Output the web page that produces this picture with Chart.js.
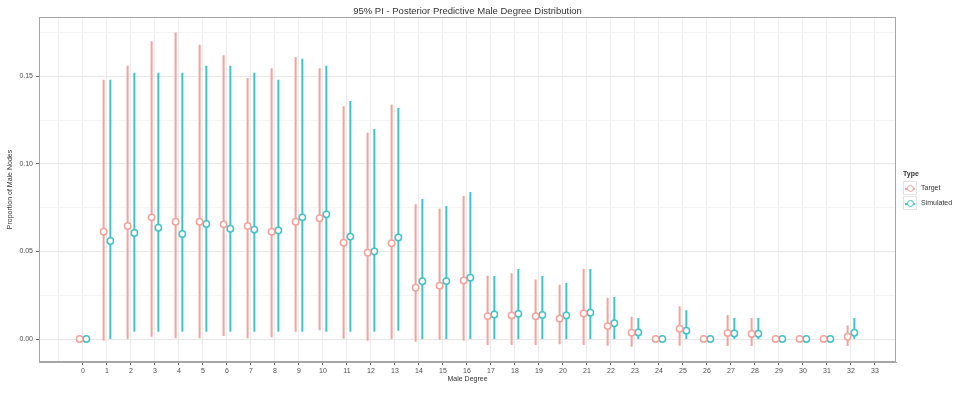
<!DOCTYPE html>
<html>
<head>
<meta charset="utf-8">
<script src="https://cdn.jsdelivr.net/npm/chart.js@4"></script>
<style>
  html, body { margin: 0; padding: 0; background: #fff; }
  #wrap { position: relative; width: 960px; height: 393px; }
  #title { position: absolute; left: 39px; width: 857px; top: 5px; text-align: center; font-family: "Liberation Sans", Arial, sans-serif; font-size: 9.5px; color: #333; }
  #legend { position: absolute; left: 903px; top: 170px; font-family: "Liberation Sans", Arial, sans-serif; font-size: 7px; color: #333; }
  #legend .ttl { font-weight: bold; margin-bottom: 3px; }
  #legend .row { display: flex; align-items: center; height: 15px; }
  #legend .key { position: relative; width: 14px; height: 14px; border: 1px solid #e2e2e2; box-sizing: border-box; margin-right: 4px; background: #fff; }
  #legend .key .ln { position: absolute; left: 1px; right: 1px; top: 6px; height: 0; border-top: 2px solid; }
  #legend .key .dot { position: absolute; left: 3px; top: 3px; width: 5px; height: 5px; border-radius: 50%; border: 1.5px solid; background: #fff; }
</style>
</head>
<body>
<div id="wrap">
  <canvas id="chart" width="960" height="393"></canvas>
  <div id="title">95% PI - Posterior Predictive Male Degree Distribution</div>
  <div id="legend"></div>
</div>
<script>
// Data
const degrees = [0, 1, 2, 3, 4, 5, 6, 7, 8, 9, 10, 11, 12, 13, 14, 15, 16, 17, 18, 19, 20, 21, 22, 23, 24, 25, 26, 27, 28, 29, 30, 31, 32];
const tickLabels = ["0", "1", "2", "3", "4", "5", "6", "7", "8", "9", "10", "11", "12", "13", "14", "15", "16", "17", "18", "19", "20", "21", "22", "23", "24", "25", "26", "27", "28", "29", "30", "31", "32", "33"];

const targetMean = [0, 0.0613, 0.0646, 0.0695, 0.067, 0.067, 0.0655, 0.0646, 0.0613, 0.067, 0.069, 0.055, 0.0493, 0.0547, 0.0293, 0.0305, 0.0335, 0.0131, 0.0135, 0.013, 0.0116, 0.0146, 0.0074, 0.0036, 0, 0.0059, 0, 0.0034, 0.0029, 0, 0, 0, 0.0013];
const targetLow = [0, -0.001, 0, 0.0013, 0.0004, 0.0004, 0.0017, 0.0004, 0.001, 0.0042, 0.005, 0.0002, -0.001, 0, -0.0015, -0.0004, -0.001, -0.0034, -0.0034, -0.0034, -0.003, -0.0034, -0.0038, -0.0044, 0, -0.0038, 0, -0.004, -0.004, 0, 0, 0, -0.004];
const targetHigh = [0, 0.148, 0.156, 0.170, 0.175, 0.168, 0.162, 0.149, 0.1546, 0.161, 0.1546, 0.133, 0.118, 0.134, 0.077, 0.0746, 0.0817, 0.0362, 0.0376, 0.034, 0.031, 0.040, 0.0236, 0.0127, 0, 0.0188, 0, 0.0137, 0.012, 0, 0, 0, 0.0078];

const simMean = [0, 0.056, 0.0606, 0.0636, 0.060, 0.0657, 0.063, 0.0625, 0.062, 0.0695, 0.0712, 0.0585, 0.050, 0.058, 0.033, 0.0331, 0.035, 0.014, 0.0144, 0.0137, 0.0135, 0.015, 0.009, 0.0038, 0, 0.0048, 0, 0.0032, 0.003, 0, 0, 0, 0.0036];
const simLow = [0, 0, 0.0042, 0.0042, 0.0042, 0.0042, 0.0042, 0.0042, 0.0042, 0.0042, 0.0042, 0.0042, 0.0042, 0.0048, 0, 0, 0, 0, 0, 0, 0, 0, 0, 0, 0, 0, 0, 0, 0, 0, 0, 0, 0];
const simHigh = [0, 0.148, 0.152, 0.152, 0.152, 0.156, 0.156, 0.152, 0.148, 0.160, 0.156, 0.136, 0.120, 0.132, 0.080, 0.076, 0.084, 0.036, 0.040, 0.036, 0.032, 0.040, 0.024, 0.012, 0, 0.0165, 0, 0.012, 0.012, 0, 0, 0, 0.012];

const targetColor = "#f3a19b";
const simColor = "#3ec3c6";
const dodge = 0.14;
const FONT = "'Liberation Sans', Arial, sans-serif";

// vertical interval segments, broken by null points
function intervals(lo, hi, offset) {
  const pts = [];
  degrees.forEach((d, i) => {
    pts.push({ x: d + offset, y: lo[i] });
    pts.push({ x: d + offset, y: hi[i] });
    pts.push({ x: d + offset, y: null });
  });
  return pts;
}

function means(m, offset) {
  return degrees.map((d, i) => ({ x: d + offset, y: m[i] }));
}

function isMajor(v) {
  const r = v / 0.05;
  return Math.abs(r - Math.round(r)) < 1e-6;
}

// panel frame (top/right edges)
const framePlugin = {
  id: "frame",
  afterDraw(chart) {
    const a = chart.chartArea;
    const ctx = chart.ctx;
    ctx.save();
    ctx.strokeStyle = "#a6a6a6";
    ctx.lineWidth = 1;
    ctx.strokeRect(a.left + 0.5, a.top + 0.5, a.right - a.left - 1, a.bottom - a.top - 1);
    ctx.restore();
  }
};

const chart = new Chart(document.getElementById("chart").getContext("2d"), {
  type: "scatter",
  data: {
    datasets: [
      {
        label: "Target",
        data: means(targetMean, -dodge),
        pointRadius: 3.2,
        pointBorderWidth: 1.5,
        pointBackgroundColor: "#fff",
        pointBorderColor: targetColor,
        order: 0
      },
      {
        label: "Simulated",
        data: means(simMean, dodge),
        pointRadius: 3.2,
        pointBorderWidth: 1.5,
        pointBackgroundColor: "#fff",
        pointBorderColor: simColor,
        order: 0
      },
      {
        label: "Target interval",
        data: intervals(targetLow, targetHigh, -dodge),
        showLine: true,
        spanGaps: false,
        borderColor: targetColor,
        borderWidth: 2,
        pointRadius: 0,
        order: 1
      },
      {
        label: "Simulated interval",
        data: intervals(simLow, simHigh, dodge),
        showLine: true,
        spanGaps: false,
        borderColor: simColor,
        borderWidth: 2,
        pointRadius: 0,
        order: 1
      }
    ]
  },
  options: {
    responsive: false,
    animation: false,
    layout: { padding: { left: 0, right: 64, top: 17, bottom: 0 } },
    plugins: {
      legend: { display: false },
      tooltip: { enabled: false },
      title: { display: false }
    },
    scales: {
      x: {
        type: "linear",
        min: -1.833,
        max: 33.875,
        afterFit: s => { s.height = 31; },
        ticks: {
          stepSize: 1,
          includeBounds: false,
          autoSkip: false,
          maxRotation: 0,
          padding: 2,
          color: "#4d4d4d",
          font: { family: FONT, size: 7 },
          callback: v => (v >= 0 && v < tickLabels.length) ? tickLabels[v] : ""
        },
        grid: {
          color: "#ececec",
          tickLength: 3,
          tickColor: c => (c.tick && c.tick.value >= 0) ? "#666" : "rgba(0,0,0,0)"
        },
        border: { color: "#a6a6a6" },
        title: {
          display: true,
          text: "Male Degree",
          color: "#333",
          font: { family: FONT, size: 7 },
          padding: { top: 0, bottom: 9.5 }
        }
      },
      y: {
        min: -0.0131,
        max: 0.1839,
        afterFit: s => { s.width = 39; },
        ticks: {
          stepSize: 0.025,
          includeBounds: false,
          padding: 3,
          color: "#4d4d4d",
          font: { family: FONT, size: 7 },
          callback: v => isMajor(v) ? v.toFixed(2) : ""
        },
        grid: {
          color: c => (c.tick && isMajor(c.tick.value)) ? "#e6e6e6" : "#f3f3f3",
          tickLength: 3,
          tickColor: c => (c.tick && isMajor(c.tick.value)) ? "#666" : "rgba(0,0,0,0)"
        },
        border: { color: "#a6a6a6" },
        title: {
          display: true,
          text: "Proportion of Male Nodes",
          color: "#333",
          font: { family: FONT, size: 7 },
          padding: { top: 6, bottom: 0 }
        }
      }
    }
  },
  plugins: [framePlugin]
});

// HTML legend from the mean datasets
const legend = document.getElementById("legend");
let html = '<div class="ttl">Type</div>';
chart.data.datasets.slice(0, 2).forEach(ds => {
  const col = ds.pointBorderColor;
  html += '<div class="row"><span class="key"><span class="ln" style="border-color:' + col + '"></span>' +
          '<span class="dot" style="border-color:' + col + '"></span></span>' + ds.label + '</div>';
});
legend.innerHTML = html;
</script>
</body>
</html>
